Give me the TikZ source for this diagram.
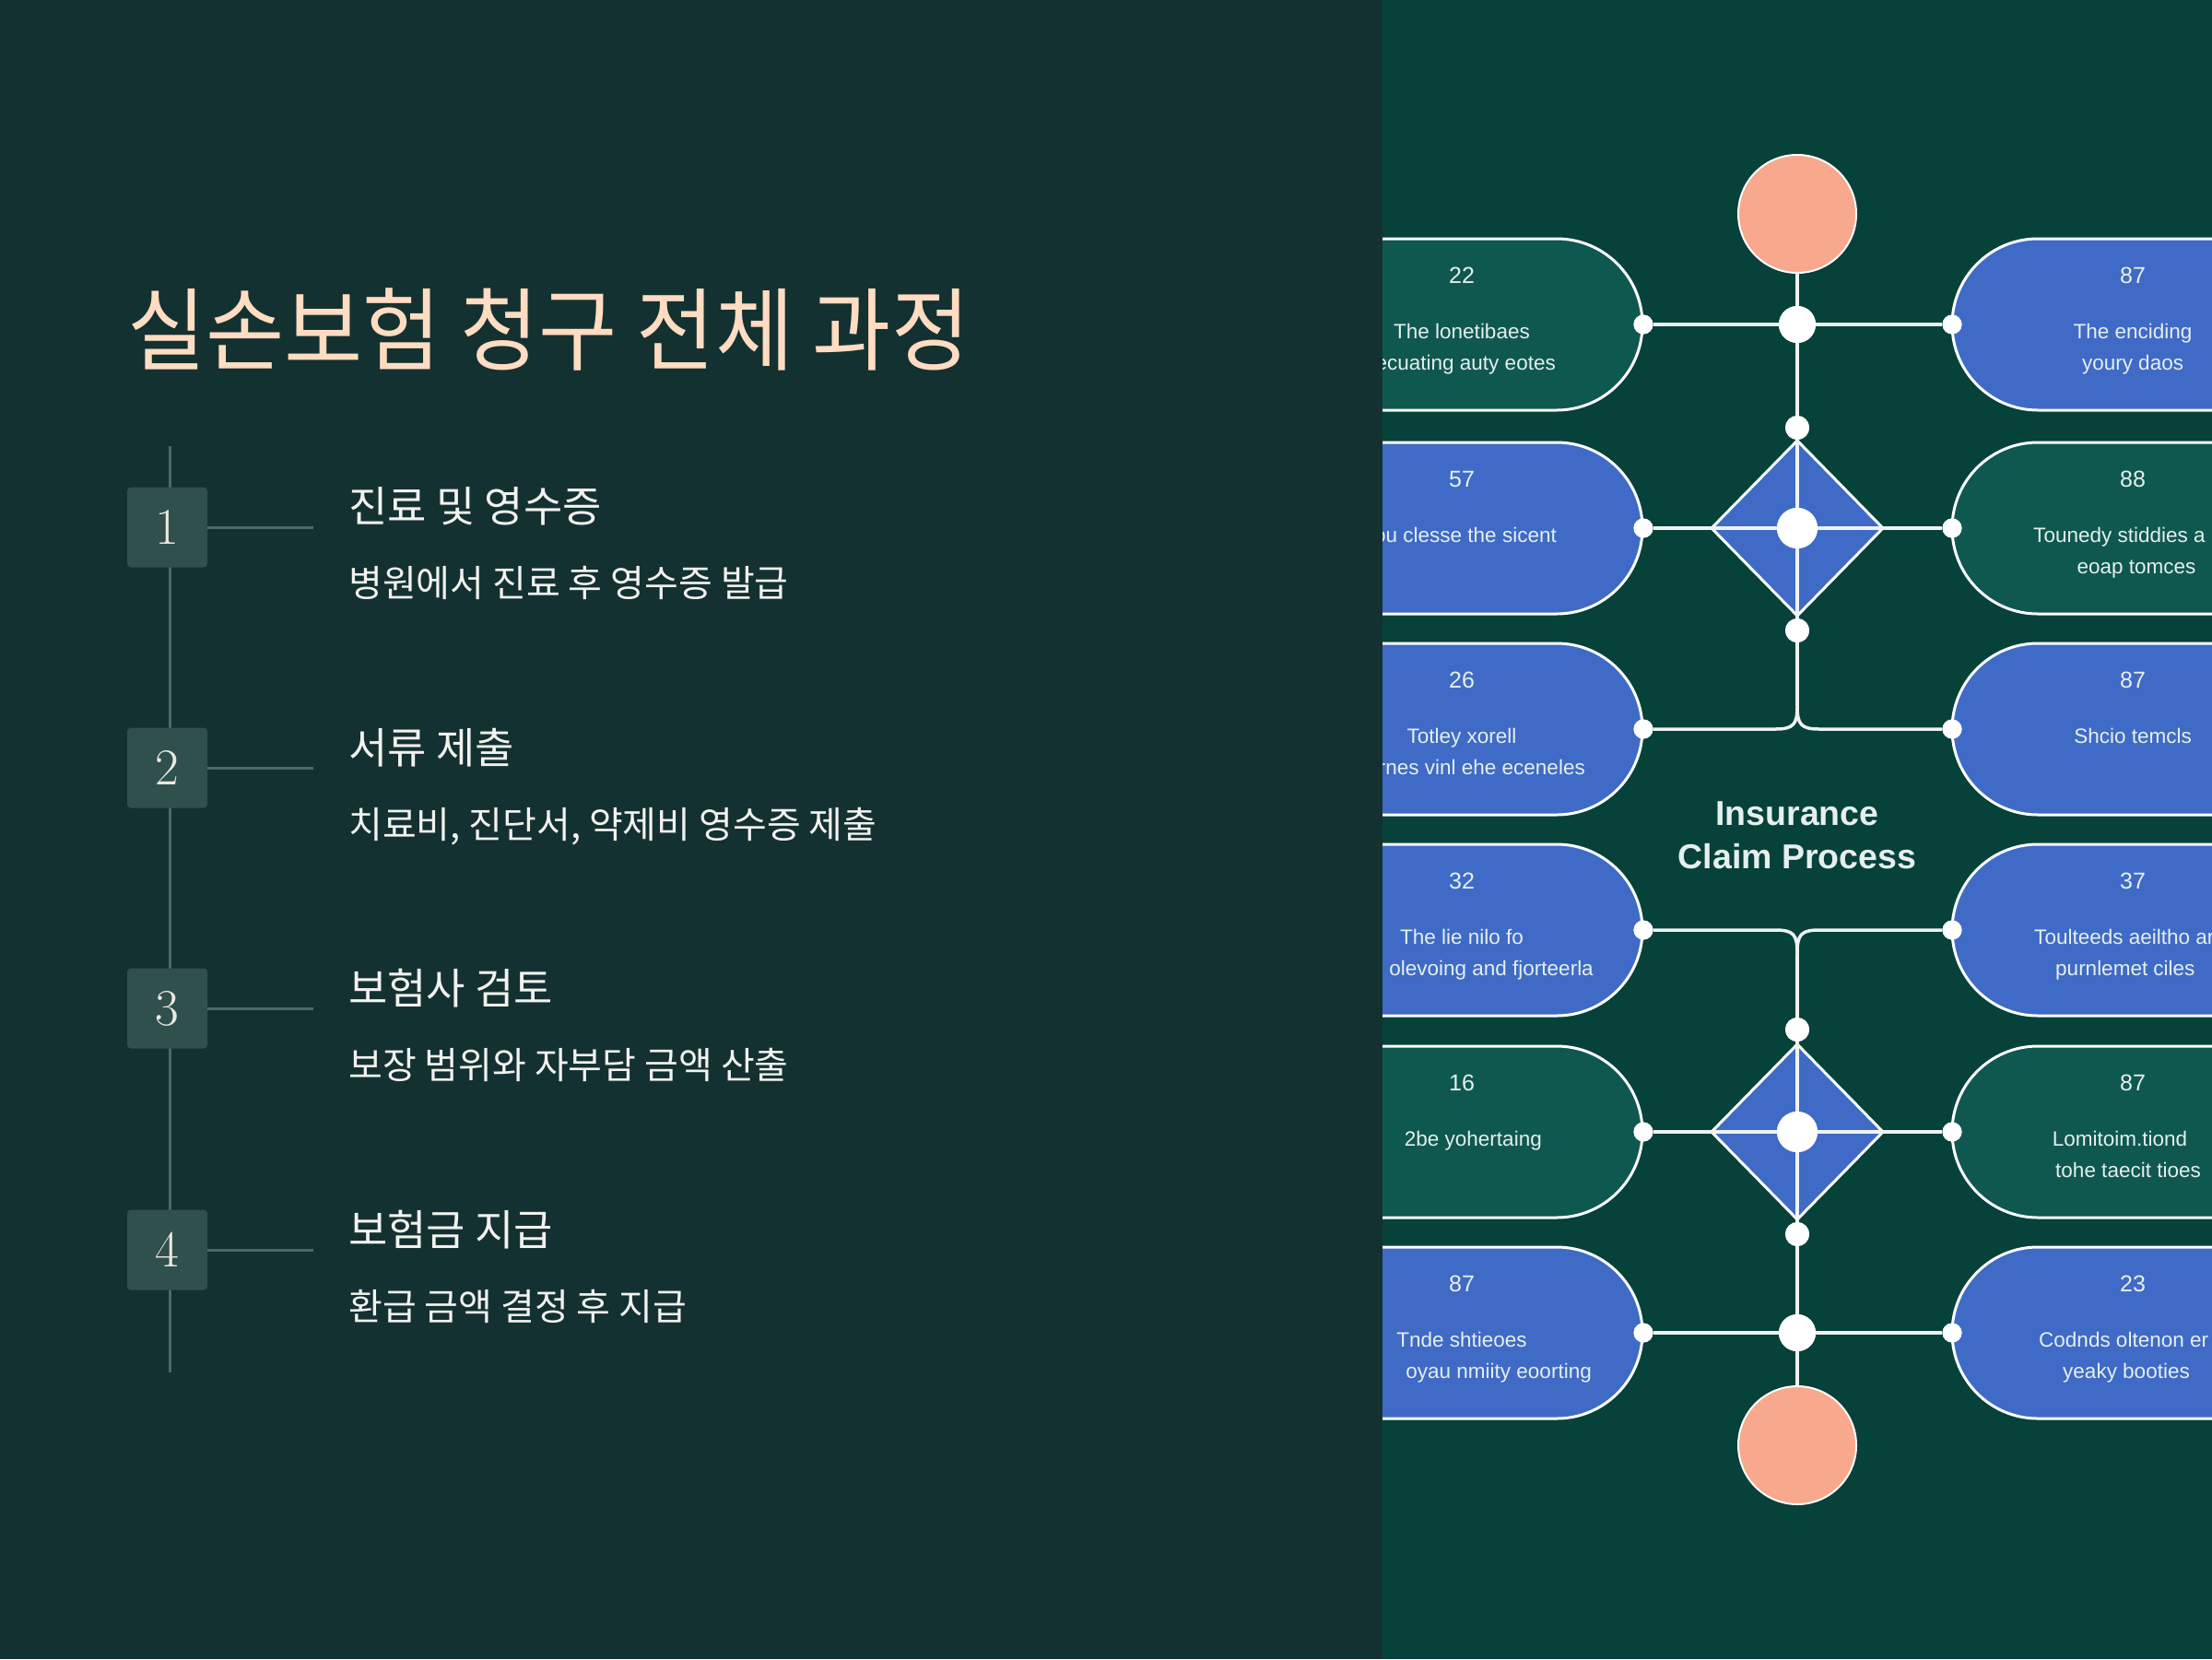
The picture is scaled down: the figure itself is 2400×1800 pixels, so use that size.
\documentclass[tikz,border=0pt]{standalone}
\usepackage{fontspec}
\newfontfamily\kr{Noto Sans CJK KR}
\newfontfamily\krT[FakeStretch=0.945]{Noto Sans CJK KR}
\newfontfamily\lsans{Liberation Sans}
\definecolor{leftbg}{HTML}{133130}
\definecolor{rightbg}{HTML}{06413A}
\definecolor{pgreen}{HTML}{0F5850}
\definecolor{pblue}{HTML}{3F6BC6}
\definecolor{salmon}{HTML}{F8A88C}
\definecolor{linew}{HTML}{EEF3F1}
\definecolor{ptext}{HTML}{E6EFEC}
\definecolor{tline}{HTML}{4A6A67}
\definecolor{boxc}{HTML}{2F504D}
\definecolor{titlec}{HTML}{FFDCC2}
\definecolor{headc}{HTML}{F2F2EE}
\definecolor{numc}{HTML}{ECE8E0}
\tikzset{
  conn/.style={draw=linew, line width=3.5pt},
  enddot/.style={circle, fill=white, inner sep=0pt, minimum size=21pt},
  jdot/.style={circle, fill=white, inner sep=0pt, minimum size=40pt},
  cdot/.style={circle, fill=white, inner sep=0pt, minimum size=44pt},
  sdot/.style={circle, fill=white, inner sep=0pt, minimum size=26pt},
  endcirc/.style={circle, fill=salmon, draw=white, line width=2pt, inner sep=0pt, minimum size=128pt},
  pillG/.style={fill=pgreen, draw=white, line width=3pt, rounded corners=93pt},
  pillB/.style={fill=pblue, draw=white, line width=3pt, rounded corners=93pt},
  diam/.style={fill=pblue, draw=white, line width=3pt, line join=miter},
  ptxt/.style={font=\lsans\fontsize{22.5pt}{26pt}\selectfont, text=ptext, inner sep=0pt, anchor=base},
  pnum/.style={font=\lsans\fontsize{25pt}{28pt}\selectfont, text=ptext, inner sep=0pt, anchor=base},
  ctitle/.style={font=\lsans\bfseries\fontsize{37.5pt}{40pt}\selectfont, text=ptext, inner sep=0pt, anchor=base},
  tlinest/.style={draw=tline, line width=3pt},
  numbox/.style={fill=boxc, rounded corners=4pt, minimum width=87pt, minimum height=87pt, inner sep=0pt, text=numc, font=\fontsize{56pt}{58pt}\selectfont},
  headt/.style={font=\kr\fontsize{46pt}{50pt}\selectfont, text=headc, inner sep=0pt, anchor=base west},
  subt/.style={font=\kr\fontsize{40pt}{44pt}\selectfont, text=headc, inner sep=0pt, anchor=base west},
}
\begin{document}
\begin{tikzpicture}[x=1pt,y=-1pt]
\useasboundingbox (0,0) rectangle (2400,1800);
% right panel background
\fill[rightbg] (1500,0) rectangle (2400,1800);
\begin{scope}
\clip (1500,0) rectangle (2400,1800);
% pills left column
\draw[pillG] (1300,259) rectangle (1782,445);
\draw[pillB] (1300,480) rectangle (1782,666);
\draw[pillB] (1300,698) rectangle (1782,884);
\draw[pillB] (1300,916) rectangle (1782,1102);
\draw[pillG] (1300,1135) rectangle (1782,1321);
\draw[pillB] (1300,1353) rectangle (1782,1539);
% pills right column
\draw[pillB] (2118,259) rectangle (2600,445);
\draw[pillG] (2118,480) rectangle (2600,666);
\draw[pillB] (2118,698) rectangle (2600,884);
\draw[pillB] (2118,916) rectangle (2600,1102);
\draw[pillG] (2118,1135) rectangle (2600,1321);
\draw[pillB] (2118,1353) rectangle (2600,1539);
% diamonds
\coordinate (dAt) at (1950,478);
\coordinate (dAr) at (2043,573);
\coordinate (dAb) at (1950,668);
\coordinate (dAl) at (1857,573);
\filldraw[diam] (dAt) -- (dAr) -- (dAb) -- (dAl) -- cycle;
\coordinate (dBt) at (1950,1133);
\coordinate (dBr) at (2043,1228);
\coordinate (dBb) at (1950,1323);
\coordinate (dBl) at (1857,1228);
\filldraw[diam] (dBt) -- (dBr) -- (dBb) -- (dBl) -- cycle;
% end circles
\node[endcirc] (topc) at (1950,232) {};
\node[endcirc] (botc) at (1950,1568) {};
% dots
\node[enddot] (l1) at (1783,352) {};
\node[enddot] (l2) at (1783,573) {};
\node[enddot] (l3) at (1783,791) {};
\node[enddot] (l4) at (1783,1009) {};
\node[enddot] (l5) at (1783,1228) {};
\node[enddot] (l6) at (1783,1446) {};
\node[enddot] (r1) at (2118,352) {};
\node[enddot] (r2) at (2118,573) {};
\node[enddot] (r3) at (2118,791) {};
\node[enddot] (r4) at (2118,1009) {};
\node[enddot] (r5) at (2118,1228) {};
\node[enddot] (r6) at (2118,1446) {};
\node[jdot] (j1) at (1950,352) {};
\node[jdot] (j6) at (1950,1446) {};
\node[cdot] (c2) at (1950,573) {};
\node[cdot] (c5) at (1950,1228) {};
\node[sdot] (s1) at (1950,464) {};
\node[sdot] (s2) at (1950,684) {};
\node[sdot] (s3) at (1950,1117) {};
\node[sdot] (s4) at (1950,1339) {};
\coordinate (ysplit) at (1950,766);
\coordinate (ymerge) at (1950,1034);
% connectors
\draw[conn] (l1) -- (j1) -- (r1);
\draw[conn] (topc) -- (j1) -- (s1) -- (c2) -- (s2) -- (ysplit);
\draw[conn] (l2) -- (c2) -- (r2);
\draw[conn] (ysplit) .. controls (1950,786) and (1946,791) .. (1926,791) -- (l3);
\draw[conn] (ysplit) .. controls (1950,786) and (1954,791) .. (1974,791) -- (r3);
\draw[conn] (l4) -- (1926,1009) .. controls (1946,1009) and (1950,1014) .. (ymerge);
\draw[conn] (r4) -- (1974,1009) .. controls (1954,1009) and (1950,1014) .. (ymerge);
\draw[conn] (ymerge) -- (s3) -- (c5) -- (s4) -- (j6) -- (botc);
\draw[conn] (l5) -- (c5) -- (r5);
\draw[conn] (l6) -- (j6) -- (r6);
% redraw dots on top
\foreach \x/\y in {1783/352,1783/573,1783/791,1783/1009,1783/1228,1783/1446,2118/352,2118/573,2118/791,2118/1009,2118/1228,2118/1446}
  \fill[white] (\x,\y) circle (10.5pt);
\foreach \y/\r in {352/20,1446/20,573/22,1228/22,464/13,684/13,1117/13,1339/13}
  \fill[white] (1950,\y) circle (\r pt);
% left pill texts
\node[pnum] (tl1n) at (1586,307) {22};
\node[ptxt] (tl1a) at (1586,367) {The lonetibaes};
\node[ptxt, anchor=base east] (tl1b) at (1688,401) {ecuating auty eotes};
\node[pnum] (tl2n) at (1586,528) {57};
\node[ptxt, anchor=base east] (tl2a) at (1689,588) {you clesse the sicent};
\node[pnum] (tl3n) at (1586,746) {26};
\node[ptxt] (tl3a) at (1586,806) {Totley xorell};
\node[ptxt, anchor=base east] (tl3b) at (1720,840) {rnes vinl ehe eceneles};
\node[pnum] (tl4n) at (1586,964) {32};
\node[ptxt] (tl4a) at (1586,1024) {The lie nilo fo};
\node[ptxt, anchor=base east] (tl4b) at (1729,1058) {olevoing and fjorteerla};
\node[pnum] (tl5n) at (1586,1183) {16};
\node[ptxt, anchor=base east] (tl5a) at (1673,1243) {2be yohertaing};
\node[pnum] (tl6n) at (1586,1401) {87};
\node[ptxt] (tl6a) at (1586,1461) {Tnde shtieoes};
\node[ptxt, anchor=base east] (tl6b) at (1727,1495) {oyau nmiity eoorting};
% right pill texts
\node[pnum] (tr1n) at (2314,307) {87};
\node[ptxt] (tr1a) at (2314,367) {The enciding};
\node[ptxt] (tr1b) at (2314,401) {youry daos};
\node[pnum] (tr2n) at (2314,528) {88};
\node[ptxt, anchor=base west] (tr2a) at (2206,588) {Tounedy stiddies a};
\node[ptxt] (tr2b) at (2318,622) {eoap tomces};
\node[pnum] (tr3n) at (2314,746) {87};
\node[ptxt] (tr3a) at (2314,806) {Shcio temcls};
\node[pnum] (tr4n) at (2314,964) {37};
\node[ptxt, anchor=base west] (tr4a) at (2207,1024) {Toulteeds aeiltho ar};
\node[ptxt, anchor=base west] (tr4b) at (2230,1058) {purnlemet ciles};
\node[pnum] (tr5n) at (2314,1183) {87};
\node[ptxt] (tr5a) at (2300,1243) {Lomitoim.tiond};
\node[ptxt, anchor=base west] (tr5b) at (2230,1277) {tohe taecit tioes};
\node[pnum] (tr6n) at (2314,1401) {23};
\node[ptxt, anchor=base west] (tr6a) at (2212,1461) {Codnds oltenon er};
\node[ptxt, anchor=base west] (tr6b) at (2238,1495) {yeaky booties};
% center title
\node[ctitle] (ins1) at (1950,895) {Insurance};
\node[ctitle] (ins2) at (1950,942) {Claim Process};
\end{scope}
% left panel
\fill[leftbg] (0,0) rectangle (1500,1800);
\node[font=\krT\fontsize{98pt}{100pt}\selectfont, text=titlec, inner sep=0pt, anchor=base west] (title) at (138,394) {실손보험 청구 전체 과정};
\coordinate (tlTop) at (184,484);
\coordinate (tlBot) at (184,1489);
\draw[tlinest] (tlTop) -- (tlBot);
\foreach \i/\y in {1/572,2/833,3/1094,4/1356} {
  \node[numbox] (b\i) at (181.5,\y) {\i};
  \coordinate (h\i) at (340,\y);
  \draw[tlinest] (b\i.east) -- (h\i);
}
\node[headt] (hd1) at (378,566) {진료 및 영수증};
\node[subt] (sb1) at (378,647) {병원에서 진료 후 영수증 발급};
\node[headt] (hd2) at (378,828) {서류 제출};
\node[subt] (sb2) at (378,909) {치료비, 진단서, 약제비 영수증 제출};
\node[headt] (hd3) at (378,1089) {보험사 검토};
\node[subt] (sb3) at (378,1170) {보장 범위와 자부담 금액 산출};
\node[headt] (hd4) at (378,1351) {보험금 지급};
\node[subt] (sb4) at (378,1432) {환급 금액 결정 후 지급};
\end{tikzpicture}
\end{document}
